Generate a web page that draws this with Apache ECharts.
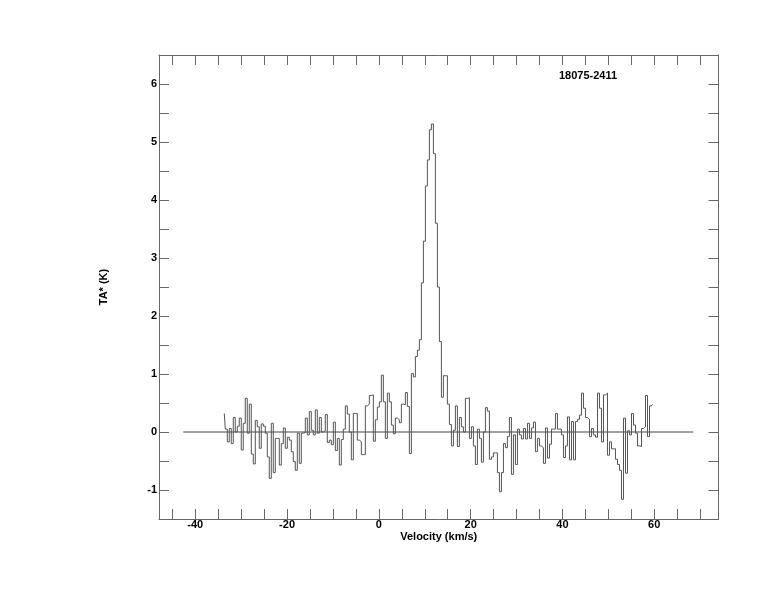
<!DOCTYPE html>
<html>
<head>
<meta charset="utf-8">
<script src="https://cdn.jsdelivr.net/npm/echarts@6/dist/echarts.min.js"></script>
<style>
html,body{margin:0;padding:0;background:#fff;}
#c{width:774px;height:612px;}
</style>
</head>
<body>
<div id="c"></div>
<script>
// ---- data ----
const sourceName = '18075-2411';
const velStart = -33.68;      // km/s, centre of first channel
const chanWidth = 0.436;      // km/s per channel
const taValues = [
  0.32, 0.05, -0.17, 0.06, -0.2, 0.25, 0.0, 0.1, 0.24, -0.31,
  0.15, 0.58, -0.02, 0.48, -0.38, -0.55, 0.2, 0.09, -0.28, 0.14,
  0.1, -0.02, -0.43, -0.8, 0.15, -0.7, -0.11, -0.11, -0.57, -0.2,
  0.07, -0.28, -0.09, -0.14, -0.34, -0.51, -0.66, -0.02, -0.54, -0.02,
  -0.01, 0.24, -0.05, 0.35, 0.03, -0.05, 0.38, -0.02, 0.25, 0.0,
  0.02, 0.3,
  -0.18, -0.14, -0.22, 0.17, -0.32, -0.11, -0.57, -0.13, 0.05, 0.45,
  0.31, 0.0, -0.48, 0.32, 0.32, -0.14, -0.17, -0.39, -0.39, 0.45,
  0.48, 0.63, 0.64, -0.16, 0.21, 0.43, 0.52, 0.98, 0.52, -0.11,
  0.67, 0.52, 0.12, -0.03, 0.24, 0.21, 0.16, 0.48, 0.47, 0.68,
  0.44, -0.37,
  1.01, 0.95, 1.3, 1.41, 1.59, 2.57, 3.29, 4.24, 4.69, 5.21,
  5.31, 4.8, 3.6, 2.5, 1.56, 0.6, 0.97, 0.97, 0.48, 0.13,
  -0.24,
  0.03, 0.45, -0.25, 0.25, 0.09, 0.0, 0.58, 0.59, -0.11, 0.09,
  -0.24, -0.56, 0.05, -0.11, -0.52, 0.0, 0.42, 0.36, -0.47, -0.43,
  -0.36, -0.36, -0.7, -1.03, -0.7, -0.2, -0.27, -0.08, 0.25, -0.73,
  -0.05, -0.56, 0.05, -0.05, -0.12, 0.06, -0.12, 0.15, -0.11, 0.07,
  0.17, -0.34, -0.11, -0.24, -0.27, -0.54, 0.07,
  -0.45, -0.21, 0.05, 0.05, 0.32, 0.05, 0.05, -0.05, -0.44, -0.24,
  0.26, -0.48, 0.18, -0.48, 0.18, 0.22, 0.29, 0.67, 0.41, 0.25,
  0.22, -0.08, 0.06, -0.05, -0.09, 0.67, 0.41, -0.17, 0.64, 0.67,
  -0.4, -0.17, -0.29, -0.29, -0.47, -0.56, -0.66, -1.16, 0.24, -0.71,
  0.02, -0.05, 0.32, 0.12, -0.02, -0.24, -0.25, 0.06, 0.09, 0.63,
  -0.08, 0.45, 0.48
];
const baselineVel = [-42.6, 68.5];
const baselineTa = [0, 0];

// ---- chart ----
const FONT = '"Liberation Sans", Arial, Helvetica, sans-serif';
const AX = '#666';
const TXT = {color:'#000', fontWeight:'bold', fontSize:11, fontFamily:FONT};

const spectrum = taValues.map((t, i) => [velStart + i * chanWidth, t]);
const baseline = baselineVel.map((v, i) => [v, baselineTa[i]]);

const chart = echarts.init(document.getElementById('c'), null, {renderer:'canvas'});
const gridTop = 55, gridH = 464, gridLeft = 159, gridW = 559.5;
const xMin = -47.9, xMax = 74;
const pxPerUnit = gridW / (xMax - xMin);
const tMin = -45, tMax = 70;

chart.setOption({
  animation:false,
  backgroundColor:'#fff',
  title:{text:sourceName, left:559, top:70, padding:0,
    textStyle:Object.assign({}, TXT)},
  grid:[
    {left:gridLeft, top:gridTop, width:gridW, height:gridH},
    {left:gridLeft + (tMin - xMin) * pxPerUnit, top:gridTop,
     width:(tMax - tMin) * pxPerUnit, height:gridH}
  ],
  xAxis:[
    {gridIndex:0, type:'value', min:xMin, max:xMax, position:'bottom',
     axisLine:{show:true, onZero:false, lineStyle:{color:AX, width:1}},
     axisTick:{show:false}, axisLabel:{show:false}, splitLine:{show:false},
     name:'Velocity (km/s)', nameLocation:'middle', nameGap:12,
     nameTextStyle:Object.assign({}, TXT)},
    {gridIndex:0, type:'value', min:xMin, max:xMax, position:'top',
     axisLine:{show:true, onZero:false, lineStyle:{color:AX, width:1}},
     axisTick:{show:false}, axisLabel:{show:false}, splitLine:{show:false}},
    {gridIndex:1, type:'value', min:tMin, max:tMax, interval:5, position:'bottom',
     axisLine:{show:false, onZero:false},
     axisTick:{show:true, inside:true, length:10, lineStyle:{color:AX, width:1}},
     axisLabel:Object.assign({show:true, margin:0,
       formatter:v => (Math.round(v) % 20 === 0 ? String(Math.round(v)) : '')}, TXT),
     splitLine:{show:false}},
    {gridIndex:1, type:'value', min:tMin, max:tMax, interval:5, position:'top',
     axisLine:{show:false, onZero:false},
     axisTick:{show:true, inside:true, length:10, lineStyle:{color:AX, width:1}},
     axisLabel:{show:false}, splitLine:{show:false}}
  ],
  yAxis:[
    {gridIndex:0, type:'value', min:-1.5, max:6.5, interval:0.5, position:'left',
     axisLine:{show:true, onZero:false, lineStyle:{color:AX, width:1}},
     axisTick:{show:true, inside:true, length:10, lineStyle:{color:AX, width:1}},
     axisLabel:Object.assign({show:true, margin:2,
       formatter:v => (Math.abs(v - Math.round(v)) < 1e-6 ? String(Math.round(v)) : '')}, TXT),
     splitLine:{show:false},
     name:'TA* (K)', nameLocation:'middle', nameGap:50, nameRotate:90,
     nameTextStyle:Object.assign({}, TXT)},
    {gridIndex:0, type:'value', min:-1.5, max:6.5, interval:0.5, position:'right',
     axisLine:{show:true, onZero:false, lineStyle:{color:AX, width:1}},
     axisTick:{show:true, inside:true, length:10, lineStyle:{color:AX, width:1}},
     axisLabel:{show:false}, splitLine:{show:false}},
    {gridIndex:1, type:'value', min:-1.5, max:6.5, show:false}
  ],
  series:[
    {type:'line', xAxisIndex:0, yAxisIndex:0, data:spectrum, step:'middle',
     symbol:'none', lineStyle:{color:'#555', width:1}, z:3},
    {type:'line', xAxisIndex:0, yAxisIndex:0, data:baseline,
     symbol:'none', lineStyle:{color:'#444', width:1}, z:2}
  ]
});
</script>
</body>
</html>
